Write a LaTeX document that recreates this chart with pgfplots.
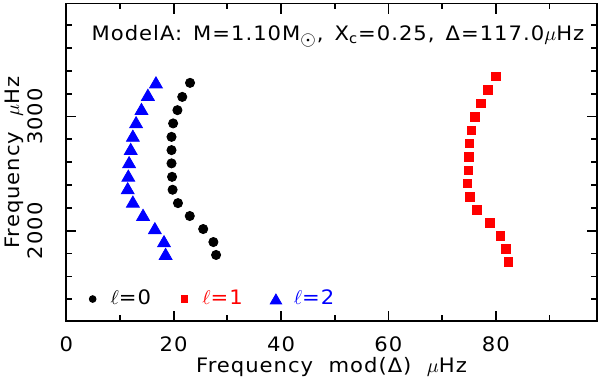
\documentclass[border=0pt]{standalone}
\usepackage{pgfplots}
\pgfplotsset{compat=1.18}
\usepackage{fontspec}
\setmainfont[LetterSpace=5, FakeStretch=1.06]{DejaVu Sans}
\pgfplotsset{
  smallmark/.style={legend image code/.code={\path (0bp,0bp) (8bp,0bp);
    \draw[##1, mark size=#1] plot coordinates {(4bp,0bp)};}},
  smalltri/.style={legend image code/.code={\path (0bp,0bp) (8bp,0bp);
    \draw[##1, mark size=#1] plot coordinates {(4bp,-0.8bp)};}},
}

\begin{document}
\begin{tikzpicture}
\begin{axis}[
  name=ax,
  scale only axis,
  width=265.2bp, height=158.9bp,
  xmin=0, xmax=98.8, ymin=1207, ymax=3990,
  xtick={0,20,40,60,80}, minor xtick={10,30,50,70,90},
  ytick={2000,3000}, minor ytick={1400,1600,...,3800},
  tick align=inside,
  major tick length=5bp, minor tick length=3bp,
  every tick/.style={black, line width=0.9pt},
  axis line style={line width=0.9pt},
  /pgf/number format/assume math mode=true,
  /pgf/number format/1000 sep={},
  tick label style={font=\fontsize{10}{12}\selectfont},
  xticklabel style={inner sep=0pt, anchor=north},
  xticklabel shift=7.3bp,
  yticklabel style={rotate=90, anchor=south, inner sep=0pt},
  yticklabel shift=11.5bp,
  label style={font=\fontsize{10}{12}\selectfont},
  xlabel={Frequency\ \ mod(Δ)\ \ $\mu$Hz},
  xlabel style={at={(rel axis cs:0.5,-0.1617)}, anchor=base},
  ylabel={Frequency\ \ $\mu$Hz},
  ylabel style={at={(rel axis cs:-0.0986,0.5)}, anchor=center},
  legend columns=3,
  legend style={at={(axis cs:3.35,1402)}, anchor=west, draw=none, fill=none,
    inner sep=0pt, outer sep=0pt, font=\fontsize{10}{12}\selectfont,
    nodes={inner sep=0pt},
    /tikz/every odd column/.append style={column sep=4.8bp},
    /tikz/every even column/.append style={column sep=12.4bp}},
]
% l=0
\addplot[only marks, mark=*, mark size=2.3bp, black, smallmark=1.7bp]
coordinates {
(23.05,3295) (21.6,3172) (20.7,3056) (19.9,2940) (19.6,2822)
(19.6,2706) (19.6,2590) (19.7,2472) (19.8,2359) (20.8,2242)
(23.0,2129) (25.5,2015) (27.4,1901) (27.9,1788)
};
\addlegendentry{$\ell$=0}
% l=1
\addplot[only marks, mark=square*, mark size=2.1bp, red, smallmark=1.7bp]
coordinates {
(80.0,3353) (78.5,3234) (77.2,3115) (76.1,2997) (75.5,2881)
(75.1,2765) (75.0,2647) (74.85,2531) (74.7,2415) (75.2,2297)
(76.5,2181) (78.9,2067) (80.9,1956) (81.9,1840) (82.4,1726)
};
\addlegendentry[text=red]{$\ell$=1}
% l=2
\addplot[only marks, mark=triangle*, mark size=3.7bp, blue, smalltri=3.3bp]
coordinates {
(16.7,3283) (15.2,3174) (14.0,3050) (13.0,2934) (12.4,2816)
(12.0,2700) (11.7,2584) (11.55,2466) (11.44,2356) (12.4,2239)
(14.3,2123) (16.5,2006) (18.2,1892) (18.5,1781)
};
\addlegendentry[text=blue]{$\ell$=2}
\node[anchor=base, font=\fontsize{10}{12}\selectfont] at (axis cs:50.6,3666)
  {ModelA:\ \,M=1.10M$_{\textstyle\odot}$,\ \,X\textsubscript{c}=0.25,\ \,Δ=117.0$\mu$Hz};
\end{axis}
\pgfresetboundingbox
\path[use as bounding box] ([xshift=-33.15bp,yshift=-31.35bp]ax.south west)
  rectangle ([xshift=1.65bp,yshift=1.75bp]ax.north east);
\end{tikzpicture}
\end{document}
